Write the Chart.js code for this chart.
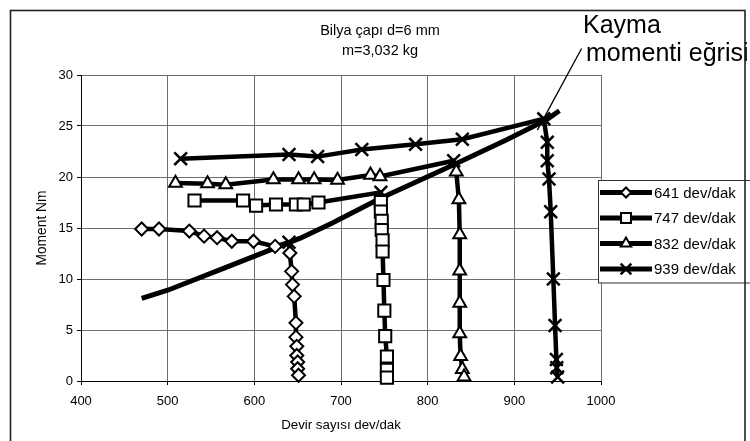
<!DOCTYPE html>
<html><head><meta charset="utf-8">
<script src="https://cdn.jsdelivr.net/npm/chart.js@4/dist/chart.umd.min.js"></script>
<style>html,body{margin:0;padding:0;background:#fff}</style>
</head><body>
<canvas id="c" width="750" height="441"></canvas>
<script>
// ---- data ----
const xTickValues = [400, 500, 600, 700, 800, 900, 1000];
const yTickValues = [0, 5, 10, 15, 20, 25, 30];
const seriesNames = ['641 dev/dak', '747 dev/dak', '832 dev/dak', '939 dev/dak'];
const titleLines = ['Bilya çapı d=6 mm', 'm=3,032 kg'];
const noteLines = ['Kayma', 'momenti eğrisi'];
const xTitle = 'Devir sayısı dev/dak';
const yTitle = 'Moment Nm';

const s641x = [470, 490, 525, 542, 557, 574, 599, 624, 640, 641, 643, 644, 646, 648, 648, 649, 649, 650, 650, 651];
const s641y = [14.9, 14.9, 14.7, 14.2, 14.05, 13.7, 13.7, 13.2, 13.6, 12.55, 10.75, 9.45, 8.3, 5.7, 4.3, 3.4, 2.5, 1.86, 1.2, 0.56];
const s747x = [531, 587, 602, 625, 648, 657, 674, 746, 746, 746, 747, 747, 748, 748, 749, 750, 751, 753, 753, 753];
const s747y = [17.7, 17.7, 17.2, 17.3, 17.3, 17.3, 17.5, 18.5, 17.55, 16.6, 15.7, 14.8, 13.8, 12.7, 9.9, 6.9, 4.4, 2.4, 1.1, 0.33];
const s832x = [509, 546, 567, 622, 651, 669, 696, 734, 745, 830, 833, 836, 837, 837, 837, 837, 838, 840, 842];
const s832y = [19.4, 19.35, 19.25, 19.75, 19.75, 19.75, 19.7, 20.2, 20.05, 21.6, 20.5, 17.8, 14.35, 10.8, 7.65, 4.65, 2.42, 1.15, 0.4];
const s939x = [515, 640, 673, 724, 786, 840, 934, 938, 938, 940, 942, 945, 947, 948.5, 949, 950];
const s939y = [21.8, 22.2, 22.0, 22.7, 23.2, 23.7, 25.7, 23.4, 21.6, 19.8, 16.6, 10.0, 5.45, 2.1, 1.3, 0.4];
const slipX = [470, 500, 560, 620, 653, 690, 745, 830, 890, 937, 952];
const slipY = [8.1, 8.9, 10.9, 12.9, 14.0, 15.5, 17.9, 21.2, 23.6, 25.6, 26.5];
// knee (cross-marked) point index of each series
const kneeIndex = [8, 7, 9, -1];
// annotation leader line, data coordinates (start on curve, end near label)
const leaderX = [926.6, 977.6];
const leaderY = [24.6, 32.6];

const FONT = '"Liberation Sans", Arial, sans-serif';
const markerStyles = ['rectRot', 'rect', 'triangle', 'crossRot'];
const markerRadius = { rectRot: 6.5, rect: 8.6, triangle: 7.4, crossRot: 9 };
const legendRadius = { rectRot: 5, rect: 7, triangle: 6, crossRot: 7.5 };

function pts(xs, ys) { return xs.map((x, i) => ({ x: x, y: ys[i] })); }

function drawMarker(ctx, style, x, y, r) {
  ctx.save();
  ctx.strokeStyle = '#000';
  ctx.fillStyle = '#fff';
  ctx.lineWidth = 2;
  ctx.beginPath();
  if (style === 'rectRot') {
    ctx.moveTo(x, y - r); ctx.lineTo(x + r, y); ctx.lineTo(x, y + r); ctx.lineTo(x - r, y); ctx.closePath();
    ctx.fill(); ctx.stroke();
  } else if (style === 'rect') {
    const s = Math.SQRT1_2 * r;
    ctx.rect(x - s, y - s, 2 * s, 2 * s); ctx.fill(); ctx.stroke();
  } else if (style === 'triangle') {
    for (let k = 0; k < 3; k++) {
      const a = k * 2 * Math.PI / 3;
      const px = x + Math.sin(a) * r, py = y - Math.cos(a) * r;
      if (k === 0) ctx.moveTo(px, py); else ctx.lineTo(px, py);
    }
    ctx.closePath(); ctx.fill(); ctx.stroke();
  } else {
    const o = Math.SQRT1_2 * r;
    ctx.lineWidth = 2.5;
    ctx.moveTo(x - o, y - o); ctx.lineTo(x + o, y + o);
    ctx.moveTo(x + o, y - o); ctx.lineTo(x - o, y + o);
    ctx.stroke();
  }
  ctx.restore();
}

const seriesX = [s641x, s747x, s832x, s939x];
const seriesY = [s641y, s747y, s832y, s939y];

const datasets = seriesX.map((xs, si) => ({
  label: seriesNames[si],
  data: pts(xs, seriesY[si]),
  showLine: true,
  borderColor: '#000',
  borderWidth: 4.5,
  tension: 0,
  clip: false,
  pointStyle: (c) => (c.dataIndex === kneeIndex[si] ? 'crossRot' : markerStyles[si]),
  pointRadius: (c) => { const st = c.dataIndex === kneeIndex[si] ? 'crossRot' : markerStyles[si]; return markerRadius[st]; },
  pointBorderWidth: (c) => ((c.dataIndex === kneeIndex[si] || si === 3) ? 2.5 : 2),
  pointBackgroundColor: '#fff',
  pointBorderColor: '#000',
  pointHoverRadius: 0
}));
datasets.push({
  label: 'slip',
  data: pts(slipX, slipY),
  showLine: true,
  borderColor: '#000',
  borderWidth: 5,
  tension: 0,
  clip: false,
  pointRadius: 0,
  pointHoverRadius: 0,
  order: 10
});

const extras = {
  id: 'extras',
  afterDraw(chart) {
    const ctx = chart.ctx;
    const xs = chart.scales.x, ys = chart.scales.y;
    ctx.save();
    // title
    ctx.fillStyle = '#000';
    ctx.font = '14.5px ' + FONT;
    ctx.textAlign = 'center';
    ctx.textBaseline = 'alphabetic';
    ctx.fillText(titleLines[0], 380, 35);
    ctx.fillText(titleLines[1], 380, 55);
    // annotation leader line
    ctx.strokeStyle = '#000';
    ctx.lineWidth = 1.3;
    ctx.beginPath();
    ctx.moveTo(xs.getPixelForValue(leaderX[0]), ys.getPixelForValue(leaderY[0]));
    ctx.lineTo(xs.getPixelForValue(leaderX[1]), ys.getPixelForValue(leaderY[1]));
    ctx.stroke();
    ctx.font = '25px ' + FONT;
    ctx.textAlign = 'left';
    ctx.fillText(noteLines[0], 583, 33);
    ctx.fillText(noteLines[1], 586, 61);
    // legend
    const lx = 598, ly = 180, lw = 160, lh = 102.5;
    ctx.fillStyle = '#fff';
    ctx.fillRect(lx, ly, lw, lh);
    ctx.strokeStyle = '#333';
    ctx.lineWidth = 1;
    ctx.strokeRect(lx + 0.5, ly + 0.5, lw, lh);
    const rows = [192.5, 218, 243.5, 269];
    ctx.font = '15px ' + FONT;
    ctx.textBaseline = 'middle';
    for (let i = 0; i < 4; i++) {
      const y = rows[i];
      ctx.strokeStyle = '#000';
      ctx.lineWidth = 5;
      ctx.beginPath(); ctx.moveTo(600, y); ctx.lineTo(652, y); ctx.stroke();
      drawMarker(ctx, markerStyles[i], 626, y, legendRadius[markerStyles[i]]);
      ctx.fillStyle = '#000';
      ctx.fillText(seriesNames[i], 654, y + 1);
    }
    // outer frame
    ctx.strokeStyle = '#222';
    ctx.lineWidth = 1.6;
    ctx.strokeRect(10.5, 10.5, 734.5, 450);
    ctx.restore();
  }
};

new Chart(document.getElementById('c'), {
  type: 'scatter',
  data: { datasets: datasets },
  plugins: [extras],
  options: {
    responsive: false,
    animation: false,
    events: [],
    layout: { padding: { left: 0, right: 149, top: 75, bottom: 0 } },
    plugins: { legend: { display: false }, tooltip: { enabled: false }, title: { display: false } },
    scales: {
      x: {
        type: 'linear', min: 400, max: 1000,
        afterBuildTicks: (s) => { s.ticks = xTickValues.map(v => ({ value: v })); },
        afterFit: (s) => { s.height = 60; },
        ticks: { color: '#000', font: { family: FONT, size: 13 }, padding: 9, callback: (v) => String(v) },
        grid: { color: '#6e6e6e', lineWidth: 1, tickLength: 4, tickColor: '#000' },
        border: { color: '#000', width: 1 },
        title: { display: true, text: xTitle, color: '#000', font: { family: FONT, size: 13.3 }, padding: { top: 0, bottom: 8 } }
      },
      y: {
        type: 'linear', min: 0, max: 30,
        afterBuildTicks: (s) => { s.ticks = yTickValues.map(v => ({ value: v })); },
        afterFit: (s) => { s.width = 81; },
        ticks: { color: '#000', font: { family: FONT, size: 13 }, padding: 4, callback: (v) => String(v) },
        grid: { color: '#6e6e6e', lineWidth: 1, tickLength: 4, tickColor: '#000' },
        border: { color: '#000', width: 1 },
        title: { display: true, text: yTitle, color: '#000', font: { family: FONT, size: 13.8 }, padding: { top: 33.5, bottom: 0 } }
      }
    }
  }
});
</script>
</body></html>
